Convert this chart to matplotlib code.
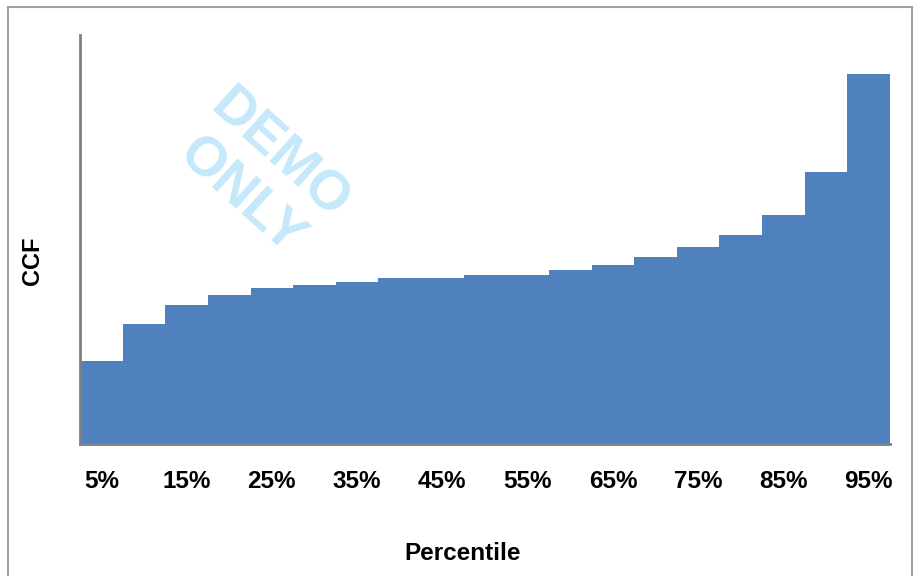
import matplotlib
matplotlib.use("Agg")
import matplotlib.pyplot as plt
from matplotlib.patches import Rectangle
import numpy as np

# CCF by percentile bucket (arbitrary units, axis has no value ticks)
percentiles = [5, 10, 15, 20, 25, 30, 35, 40, 45, 50,
               55, 60, 65, 70, 75, 80, 85, 90, 95]
ccf = [0.203, 0.293, 0.340, 0.364, 0.381, 0.389, 0.396, 0.406, 0.406, 0.413,
       0.413, 0.425, 0.438, 0.457, 0.482, 0.511, 0.560, 0.665, 0.905]
tick_labels = [f"{p}%" if i % 2 == 0 else "" for i, p in enumerate(percentiles)]

plt.rcParams["font.family"] = ["Liberation Sans Narrow", "Liberation Sans", "DejaVu Sans"]

fig = plt.figure(figsize=(9.15, 5.76), dpi=100)
ax = fig.add_axes([0.0874, 0.229, 0.8853, 0.710])

x = np.arange(len(percentiles))
ax.bar(x, ccf, width=1.0, color="#4f81bd", edgecolor="none")
ax.set_xlim(-0.5, len(percentiles) - 0.5)
ax.set_ylim(0, 1.0)

ax.set_xticks(x)
ax.set_xticklabels(tick_labels, fontsize=17.5, fontweight="bold")
ax.tick_params(axis="x", length=0, pad=19)
ax.set_yticks([])

for side in ("top", "right"):
    ax.spines[side].set_visible(False)
for side in ("left", "bottom"):
    ax.spines[side].set_color("#808080")
    ax.spines[side].set_linewidth(2)

fig.text(463 / 915, 1 - 553 / 576, "Percentile", ha="center", va="center",
         fontsize=17.5, fontweight="bold")
fig.text(0.035, 0.548, "CCF", rotation=90, ha="center", va="center",
         fontsize=17, fontweight="bold", family=["Liberation Sans", "DejaVu Sans"])

# watermark
fig.text(0.284, 0.694, "DEMO\nONLY", rotation=-42, ha="center", va="center",
         fontsize=40, fontweight="bold", color="#c5e8fb", linespacing=1.12,
         family=["Liberation Sans", "DejaVu Sans"], rotation_mode="anchor")

# outer frame
fig.patches.append(Rectangle((8 / 915, -0.05), 904 / 915, 1.05 - 7 / 576,
                             transform=fig.transFigure, fill=False,
                             edgecolor="#a0a0a0", linewidth=1.5))

fig.savefig("out.png", dpi=100)
